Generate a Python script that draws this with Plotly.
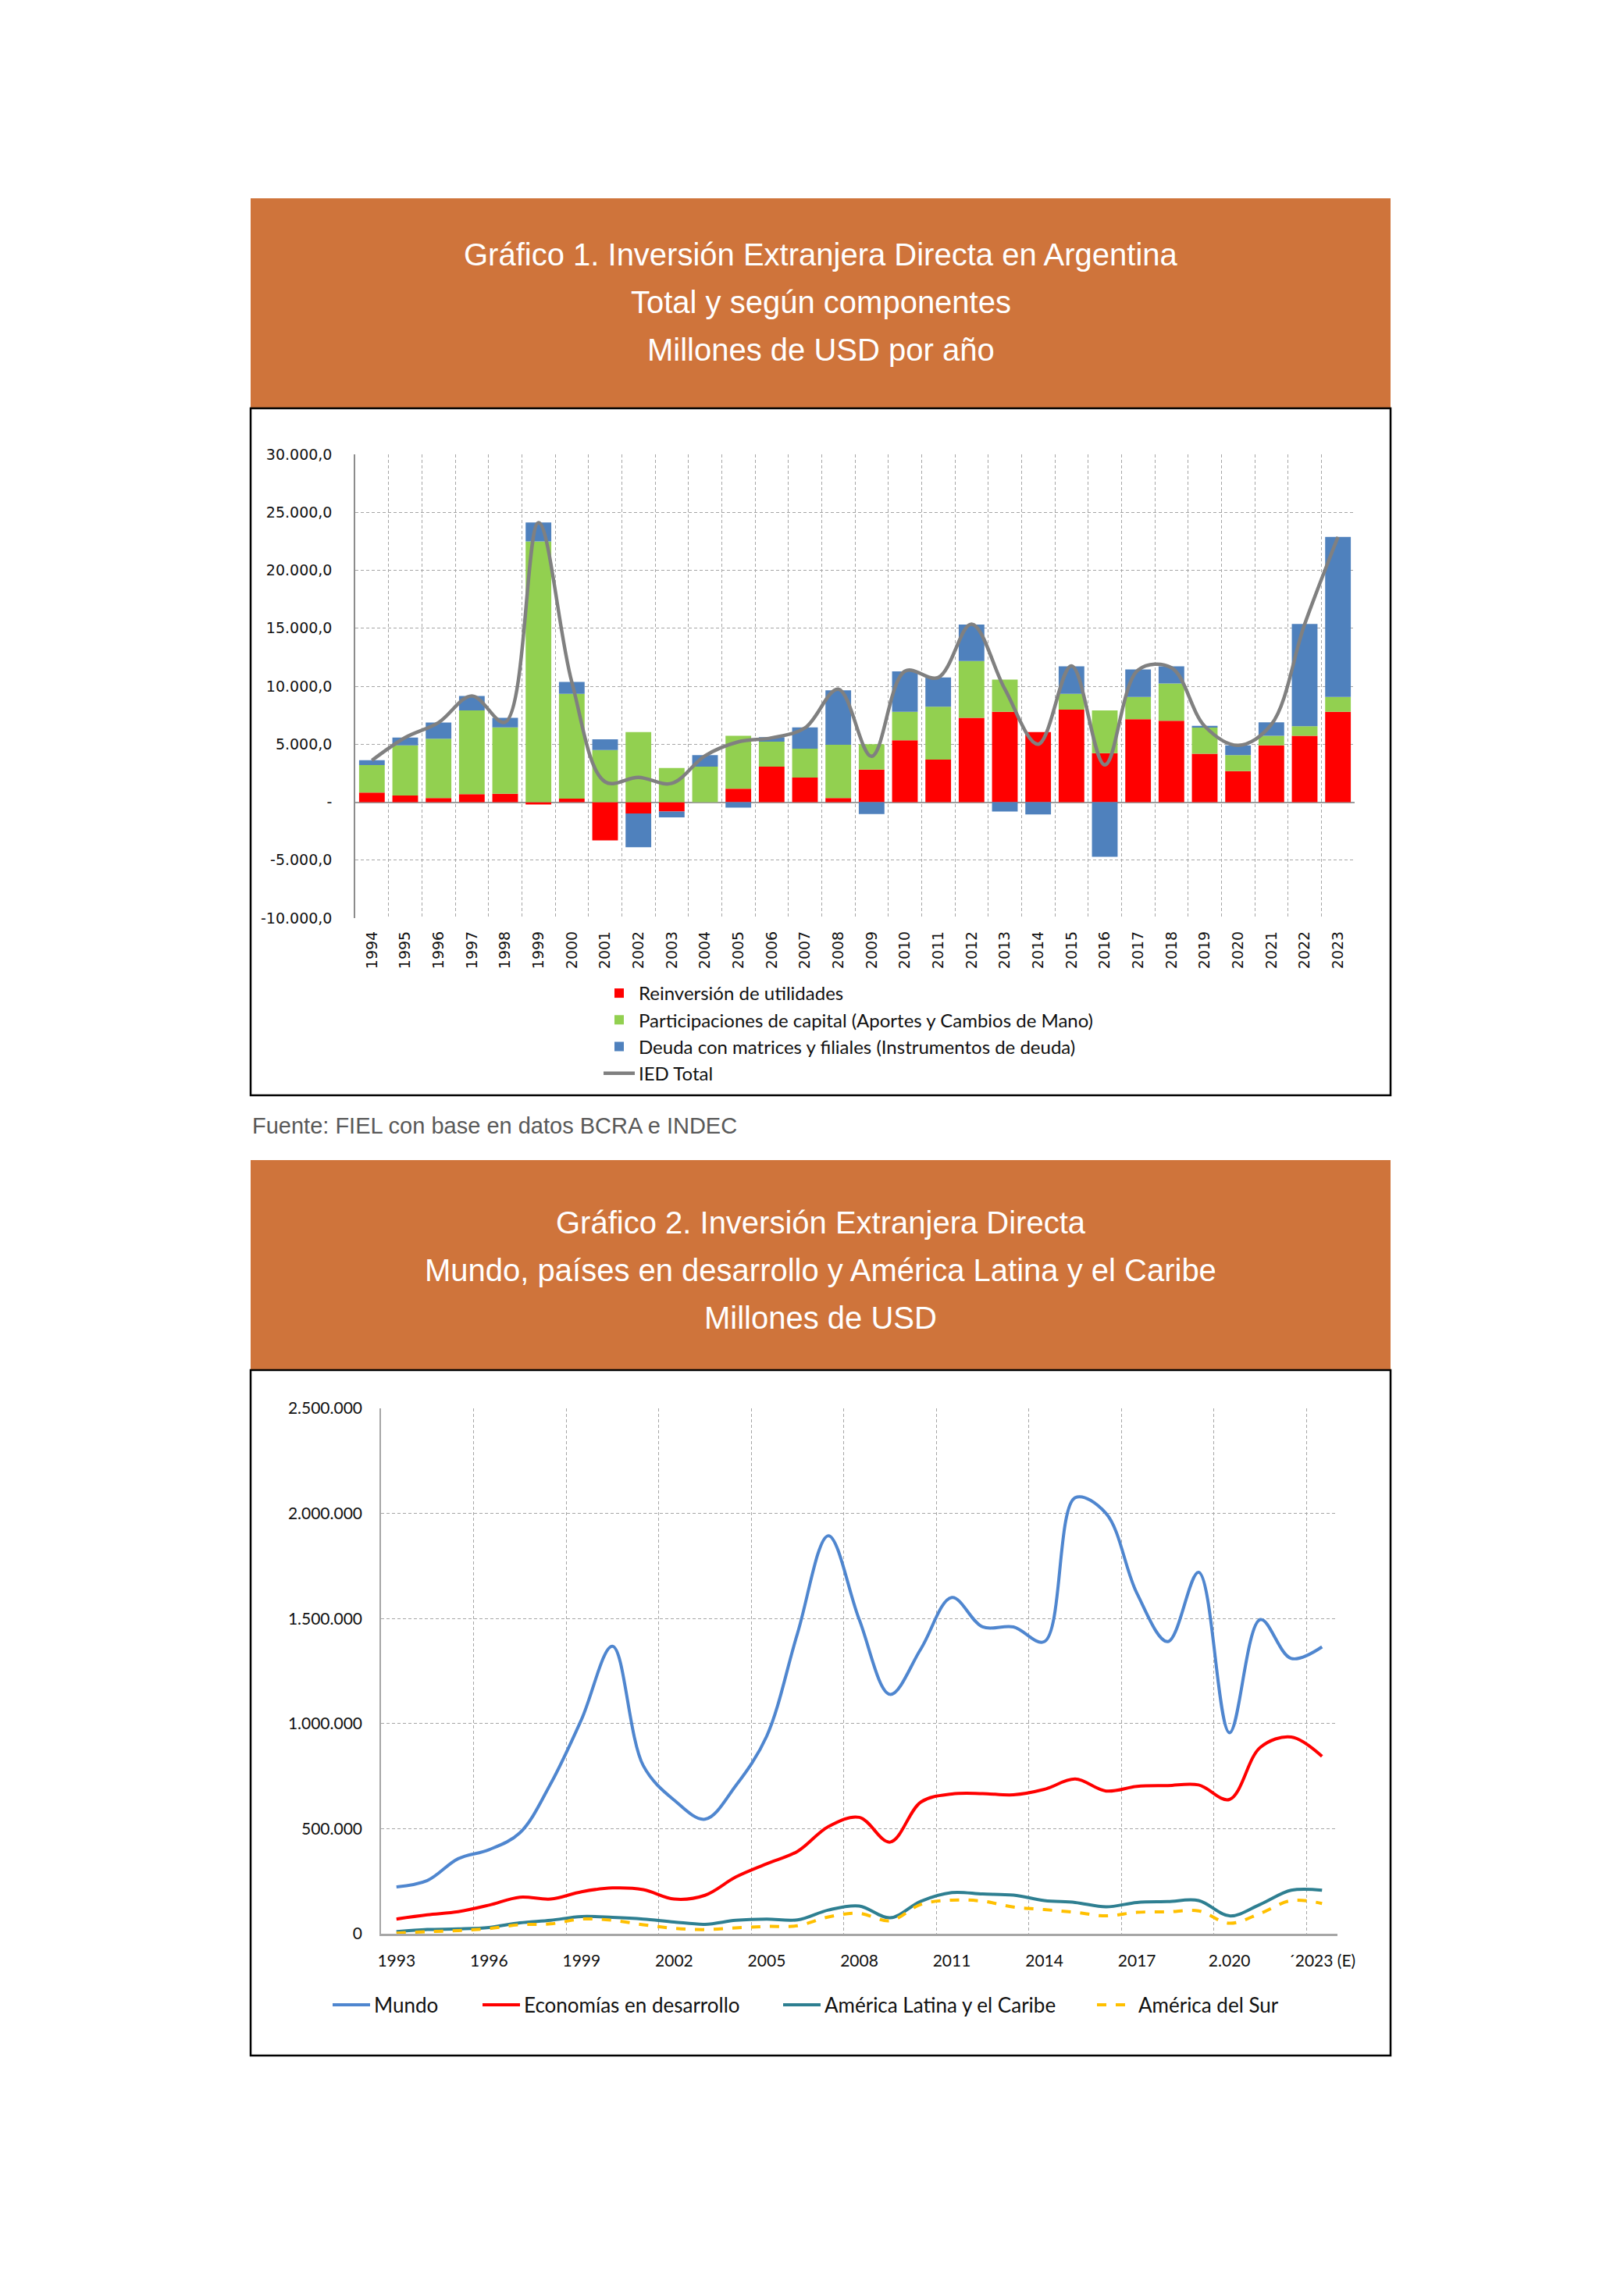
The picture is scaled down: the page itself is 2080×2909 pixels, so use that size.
import plotly.graph_objects as go

# ---------------- Chart 1 data (millones de USD) ----------------
anios1 = [str(a) for a in range(1994, 2024)]
reinversion = [826, 568, 361, 697, 722, -206, 310, -3302, -980, -800, 0, 1161, 3070, 2116, 361,
               2812, 5340, 3664, 7276, 7792, 6037, 7972, 4231, 7147, 7018, 4180, 2683, 4902, 5728, 7792]
participaciones = [2374, 4334, 5109, 7223, 5728, 22500, 9030, 4490, 6037, 2941, 3070, 4567, 2142, 2502, 4593,
                   2193, 2452, 4566, 4901, 2786, 0, 1368, 3689, 1935, 3225, 2270, 1367, 826, 825, 1290]
deuda = [412, 671, 1393, 1240, 825, 1620, 1030, 928, -2916, -516, 980, -464, 388, 1832, 4696,
         -1032, 3483, 2530, 3148, -800, -1058, 2373, -4721, 2373, 1470, 130, 852, 1161, 8823, 13803]
ied_total = [3600, 5570, 6860, 9160, 6900, 24100, 10370, 1750, 2140, 1620, 4000, 5200, 5550, 6400, 9750,
             3950, 11300, 10750, 15350, 9750, 5000, 11750, 3220, 11400, 11600, 6550, 4900, 6700, 15350, 22880]
y1_vals = [-10000, -5000, 0, 5000, 10000, 15000, 20000, 25000, 30000]
y1_text = ["-10.000,0", "-5.000,0", "-", "5.000,0", "10.000,0", "15.000,0", "20.000,0", "25.000,0", "30.000,0"]

# ---------------- Chart 2 data (millones de USD) ----------------
anios2 = list(range(1993, 2024))
mundo = [223000, 253000, 357000, 400000, 480000, 714000, 1020000, 1368000, 800000, 636000, 545000,
         705000, 940000, 1430000, 1894000, 1495000, 1139000, 1356000, 1600000, 1460000, 1460000,
         1390000, 2075000, 2000000, 1620000, 1390000, 1720000, 957000, 1495000, 1310000, 1365000]
economias = [70000, 90000, 105000, 136000, 174000, 165000, 200000, 218000, 210000, 165000, 183000,
             270000, 333000, 392000, 510000, 554000, 436000, 627000, 665000, 667000, 661000,
             687000, 736000, 679000, 701000, 705000, 708000, 639000, 887000, 936000, 844000]
america_latina = [10000, 20000, 23000, 30000, 52000, 64000, 82000, 78000, 70000, 56000, 45000,
                  64000, 70000, 66000, 113000, 132000, 76000, 155000, 196000, 189000, 184000,
                  158000, 149000, 128000, 149000, 153000, 158000, 85000, 140000, 207000, 207000]
america_sur = [3000, 10000, 15000, 25000, 43000, 47000, 70000, 64000, 43000, 26000, 20000,
               28000, 35000, 38000, 80000, 97000, 62000, 140000, 160000, 155000, 127000,
               115000, 102000, 85000, 102000, 104000, 109000, 50000, 97000, 158000, 144000]
x2_ticks = [1993, 1996, 1999, 2002, 2005, 2008, 2011, 2014, 2017, 2020, 2023]
x2_text = ["1993", "1996", "1999", "2002", "2005", "2008", "2011", "2014", "2017", "2.020", "´2023 (E)"]
y2_vals = [0, 500000, 1000000, 1500000, 2000000, 2500000]
y2_text = ["0", "500.000", "1.000.000", "1.500.000", "2.000.000", "2.500.000"]

# ---------------- page geometry helpers ----------------
W, H = 2080, 2909


def X(px):
    return px / W


def Y(py):
    return 1 - py / H


ORANGE = "#CF743B"
GRID = "#A6A6A6"
TITLE_FONT = "Liberation Sans Narrow, Arial Narrow, Liberation Sans, sans-serif"
AX1_FONT = dict(family="DejaVu Sans, Verdana, sans-serif", size=19, color="#111111")
AX2_FONT = dict(family="Lato, Open Sans, sans-serif", size=21, color="#111111")

fig = go.Figure()

# Chart 1 traces
fig.add_trace(go.Bar(x=anios1, y=reinversion, name="Reinversión de utilidades",
                     marker=dict(color="#FF0000", line=dict(width=0)), xaxis="x", yaxis="y", legend="legend"))
fig.add_trace(go.Bar(x=anios1, y=participaciones, name="Participaciones de capital (Aportes y Cambios de Mano)",
                     marker=dict(color="#92D050", line=dict(width=0)), xaxis="x", yaxis="y", legend="legend"))
fig.add_trace(go.Bar(x=anios1, y=deuda, name="Deuda con matrices y filiales (Instrumentos de deuda)",
                     marker=dict(color="#4F81BD", line=dict(width=0)), xaxis="x", yaxis="y", legend="legend"))
fig.add_trace(go.Scatter(x=anios1, y=ied_total, name="IED Total", mode="lines",
                         line=dict(color="#808080", width=4.5, shape="spline", smoothing=1.0),
                         xaxis="x", yaxis="y", legend="legend"))

# Chart 2 traces
fig.add_trace(go.Scatter(x=anios2, y=mundo, name="Mundo", mode="lines",
                         line=dict(color="#4F86CF", width=4, shape="spline", smoothing=1.0),
                         xaxis="x2", yaxis="y2", legend="legend2"))
fig.add_trace(go.Scatter(x=anios2, y=economias, name="Economías en desarrollo", mode="lines",
                         line=dict(color="#FF0000", width=4, shape="spline", smoothing=1.0),
                         xaxis="x2", yaxis="y2", legend="legend3"))
fig.add_trace(go.Scatter(x=anios2, y=america_latina, name="América Latina y el Caribe", mode="lines",
                         line=dict(color="#2E7F91", width=4, shape="spline", smoothing=1.0),
                         xaxis="x2", yaxis="y2", legend="legend4"))
fig.add_trace(go.Scatter(x=anios2, y=america_sur, name="América del Sur", mode="lines",
                         line=dict(color="#FFC000", width=4, dash="dash", shape="spline", smoothing=1.0),
                         xaxis="x2", yaxis="y2", legend="legend5"))

leg2_font = dict(family="Lato, Open Sans, sans-serif", size=26, color="#111111")


def leg(xtext):
    return dict(x=X(xtext - 60), y=Y(2568), xanchor="left", yanchor="middle", orientation="h",
                font=leg2_font, bgcolor="rgba(0,0,0,0)", borderwidth=0, itemwidth=48)


fig.update_layout(
    width=W, height=H, margin=dict(l=0, r=0, t=0, b=0, pad=0, autoexpand=False),
    paper_bgcolor="white", plot_bgcolor="white",
    barmode="relative", bargap=0.23,
    showlegend=True,
    xaxis=dict(domain=[X(455), X(1735)], anchor="y", type="category", tickson="boundaries",
               showgrid=True, gridcolor=GRID, griddash="4px,3px", gridwidth=1,
               tickangle=-90, ticks="", showline=False, zeroline=False, automargin=False,
               tickfont=AX1_FONT, ticklabelstandoff=12),
    yaxis=dict(domain=[Y(1176), Y(582)], anchor="x", range=[-10000, 30000],
               tickvals=y1_vals, ticktext=y1_text, automargin=False,
               showgrid=True, gridcolor=GRID, griddash="4px,3px", gridwidth=1,
               zeroline=True, zerolinecolor="#9C9C9C", zerolinewidth=2,
               showline=True, linecolor="#8C8C8C", linewidth=1.5, ticks="",
               tickfont=AX1_FONT, ticklabelstandoff=24),
    xaxis2=dict(domain=[X(488), X(1713)], anchor="y2", range=[1992.5, 2023.5],
                tickvals=x2_ticks, ticktext=x2_text, showgrid=False, automargin=False,
                minor=dict(tick0=1992.5, dtick=3, showgrid=True, gridcolor=GRID, griddash="4px,3px", gridwidth=1),
                showline=True, linecolor="#A6A6A6", linewidth=3, zeroline=False, ticks="",
                tickfont=AX2_FONT, ticklabelstandoff=14),
    yaxis2=dict(domain=[Y(2477), Y(1804)], anchor="x2", range=[0, 2500000],
                tickvals=y2_vals, ticktext=y2_text, automargin=False,
                showgrid=True, gridcolor=GRID, griddash="4px,3px", gridwidth=1,
                zeroline=False, showline=True, linecolor="#A6A6A6", linewidth=1.5, ticks="",
                tickfont=AX2_FONT, ticklabelstandoff=18),
    legend=dict(x=X(768), y=Y(1250), xanchor="left", yanchor="top", orientation="v",
                traceorder="normal", font=dict(family="Lato, Open Sans, sans-serif", size=24, color="#111111"),
                bgcolor="rgba(0,0,0,0)", borderwidth=0, itemwidth=40),
    legend2=leg(481),
    legend3=leg(673),
    legend4=leg(1058),
    legend5=leg(1460),
)

shapes = []
for top, bottom, box_bottom in [(254, 523, 1403), (1486, 1755, 2633)]:
    shapes.append(dict(type="rect", xref="paper", yref="paper", x0=X(321), x1=X(1781), y0=Y(bottom), y1=Y(top),
                       fillcolor=ORANGE, line=dict(width=0), layer="below"))
    shapes.append(dict(type="rect", xref="paper", yref="paper", x0=X(321), x1=X(1781), y0=Y(box_bottom), y1=Y(bottom),
                       fillcolor="rgba(0,0,0,0)", line=dict(color="black", width=2.5), layer="above"))
fig.update_layout(shapes=shapes)

titles1 = ["Gráfico 1. Inversión Extranjera Directa en Argentina", "Total y según componentes",
           "Millones de USD por año"]
titles2 = ["Gráfico 2. Inversión Extranjera Directa",
           "Mundo, países en desarrollo y América Latina y el Caribe", "Millones de USD"]
annotations = []
for txt, py in zip(titles1, [326, 387, 448]):
    annotations.append(dict(text=txt, x=X(1051), y=Y(py), xref="paper", yref="paper", showarrow=False,
                            xanchor="center", yanchor="middle",
                            font=dict(family=TITLE_FONT, size=40, color="white")))
for txt, py in zip(titles2, [1566, 1627, 1688]):
    annotations.append(dict(text=txt, x=X(1051), y=Y(py), xref="paper", yref="paper", showarrow=False,
                            xanchor="center", yanchor="middle",
                            font=dict(family=TITLE_FONT, size=40, color="white")))
annotations.append(dict(text="Fuente: FIEL con base en datos BCRA e INDEC", x=X(321), y=Y(1442),
                        xref="paper", yref="paper", showarrow=False, xanchor="left", yanchor="middle",
                        font=dict(family="Liberation Sans, Arial, sans-serif", size=29, color="#595959")))
fig.update_layout(annotations=annotations)

fig.write_html(
    "out.html",
    config={"displayModeBar": False},
    post_script=("document.documentElement.style.margin='0';document.body.style.margin='0';"
                 "document.body.style.padding='0';document.documentElement.style.overflow='hidden';"
                 "document.body.style.overflow='hidden';"),
)
